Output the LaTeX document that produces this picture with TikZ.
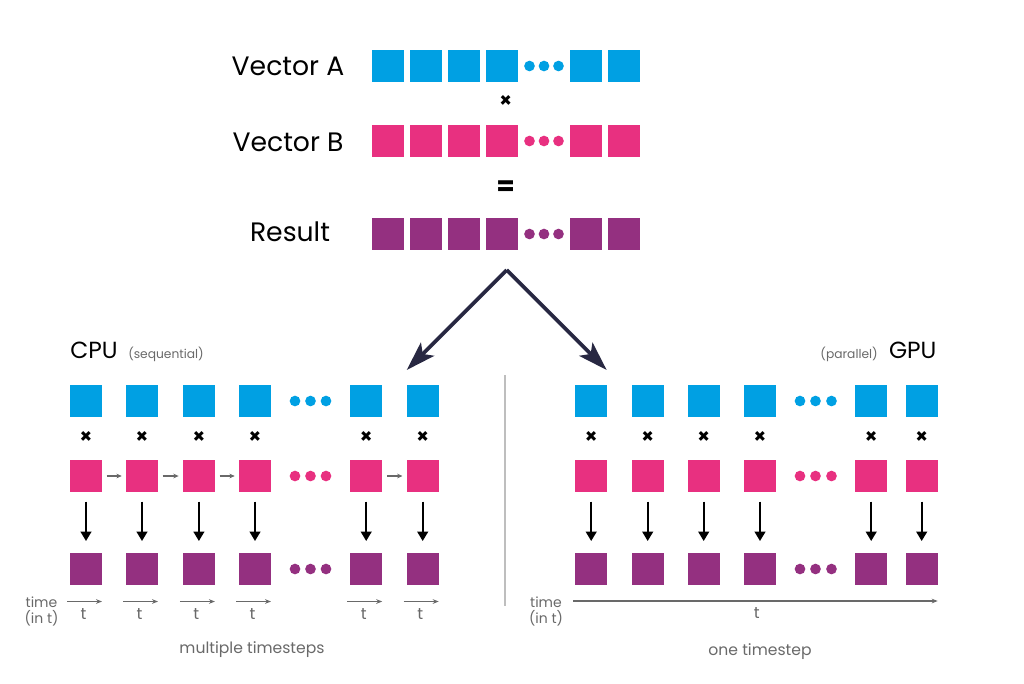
\documentclass[tikz,border=0pt]{standalone}
\usepackage{fontspec}
\setmainfont{Poppins}
\usetikzlibrary{arrows.meta,calc}
\definecolor{cblue}{RGB}{0,160,227}
\definecolor{cpink}{RGB}{232,48,128}
\definecolor{cpurp}{RGB}{148,48,128}
\definecolor{cnavy}{RGB}{40,40,66}
\definecolor{cgray}{RGB}{105,105,105}
\definecolor{cline}{RGB}{190,190,190}
\begin{document}
\begin{tikzpicture}[x=0.75pt,y=-0.75pt,
  sq/.style={minimum size=24pt, inner sep=0pt, outer sep=0pt, fill=#1},
  dotc/.style={circle, fill=#1, minimum size=8pt, inner sep=0pt},
  biglabel/.style={font=\fontsize{20}{24}\selectfont, anchor=base},
  hwlabel/.style={font=\fontsize{17.5}{20}\selectfont},
  smallgray/.style={font=\fontsize{9.2}{11}\selectfont, text=cgray},
  timelabel/.style={font=\fontsize{10.5}{12.5}\selectfont, text=cgray, align=center},
  tlabel/.style={font=\fontsize{12}{14}\selectfont, text=cgray},
  caption/.style={font=\fontsize{11.7}{14}\selectfont, text=cgray},
  opsign/.style={font=\fontsize{15}{17}\selectfont\bfseries},
  bigarrow/.style={cnavy, line width=2.8pt, -{Stealth[length=22pt,width=14pt,inset=5pt]}},
  downarrow/.style={black, line width=1.4pt, -{Triangle[length=7pt,width=8pt]}, shorten <=7.3pt, shorten >=9pt},
  grayarrow/.style={cgray, line width=0.8pt, -{Stealth[length=4pt,width=3.5pt]}, shorten <=3.5pt, shorten >=3.2pt},
  timearrow/.style={cgray, line width=0.8pt, -{Stealth[length=4.5pt,width=3.5pt]}},
  divider/.style={cline, line width=1.1pt}
]
\useasboundingbox (0,0) rectangle (1024,683);

% ---------- top vectors ----------
\node[biglabel] (la) at (288,75.7) {Vector A};
\node[biglabel] (lb) at (288,151) {Vector B};
\node[biglabel] (lr) at (290,241.7) {Result};
\foreach \i/\x in {1/388,2/426,3/464,4/501.5,5/586,6/624}{
  \node[sq=cblue] (VA\i) at (\x,66) {};
  \node[sq=cpink] (VB\i) at (\x,141) {};
  \node[sq=cpurp] (VR\i) at (\x,234) {};
}
\foreach \j/\x in {1/529.5,2/544,3/558.5}{
  \node[dotc=cblue] (VAd\j) at (\x,66) {};
  \node[dotc=cpink] (VBd\j) at (\x,141) {};
  \node[dotc=cpurp] (VRd\j) at (\x,234) {};
}
\node[opsign] (times) at (505.7,101.7) {×};
\node[font=\fontsize{20}{24}\selectfont\bfseries] (eq) at (505.7,188.3) {=};

% ---------- split arrows ----------
\coordinate (apex) at (506.7,270);
\coordinate (tipL) at (406.7,370);
\coordinate (tipR) at (606.7,370);
\draw[bigarrow] (apex) -- (tipL);
\draw[bigarrow] (apex) -- (tipR);

% ---------- divider ----------
\coordinate (dtop) at (505,375);
\coordinate (dbot) at (505,606);
\draw[divider] (dtop) -- (dbot);

% ---------- CPU ----------
\node[hwlabel, anchor=base west, inner sep=0pt] (cpu) at (70,358.3) {CPU};
\node[smallgray, anchor=base west, inner sep=0pt] (seq) at (128,358.3) {(sequential)};
\foreach \i/\x in {1/86,2/142,3/198.9,4/255,5/366.2,6/422.7}{
  \node[sq=cblue] (CA\i) at (\x,401) {};
  \node[opsign] (CX\i) at (\x,437) {×};
  \node[sq=cpink] (CB\i) at (\x,476) {};
  \node[sq=cpurp] (CR\i) at (\x,569) {};
  \draw[downarrow] (CB\i) -- (CR\i);
  \coordinate (CTs\i) at ($(CR\i.south west)+(-3,16.5)$);
  \coordinate (CTe\i) at ($(CR\i.south east)+(0,16.5)$);
  \draw[timearrow] (CTs\i) -- (CTe\i);
  \node[tlabel] (Ct\i) at ($(CTs\i)!0.5!(CTe\i)+(-1,12)$) {t};
}
\foreach \j/\x in {1/295,2/310.5,3/326}{
  \node[dotc=cblue] (CAd\j) at (\x,401) {};
  \node[dotc=cpink] (CBd\j) at (\x,476) {};
  \node[dotc=cpurp] (CRd\j) at (\x,569) {};
}
\draw[grayarrow] (CB1) -- (CB2);
\draw[grayarrow] (CB2) -- (CB3);
\draw[grayarrow] (CB3) -- (CB4);
\draw[grayarrow] (CB5) -- (CB6);
\node[timelabel] (ctime) at (41.5,611.5) {time\\(in t)};
\node[caption] (cap1) at (252,649.3) {multiple timesteps};

% ---------- GPU ----------
\node[hwlabel, anchor=base east, inner sep=0pt] (gpu) at (936.7,358.3) {GPU};
\node[smallgray, anchor=base east, inner sep=0pt] (par) at (878,358.3) {(parallel)};
\foreach \i/\x in {1/591.2,2/647.7,3/703.7,4/760,5/871.2,6/921.7}{
  \node[sq=cblue] (GA\i) at (\x,401) {};
  \node[opsign] (GX\i) at (\x,437) {×};
  \node[sq=cpink] (GB\i) at (\x,476) {};
  \node[sq=cpurp] (GR\i) at (\x,569) {};
  \draw[downarrow] (GB\i) -- (GR\i);
}
\foreach \j/\x in {1/800,2/815.5,3/831.5}{
  \node[dotc=cblue] (GAd\j) at (\x,401) {};
  \node[dotc=cpink] (GBd\j) at (\x,476) {};
  \node[dotc=cpurp] (GRd\j) at (\x,569) {};
}
\coordinate (GTs) at (573,601);
\coordinate (GTe) at (937.7,601);
\draw[timearrow] (GTs) -- (GTe);
\node[tlabel] (Gt) at (756.7,613) {t};
\node[timelabel] (gtime) at (546,611.5) {time\\(in t)};
\node[caption] (cap2) at (760,651.7) {one timestep};
\end{tikzpicture}
\end{document}
